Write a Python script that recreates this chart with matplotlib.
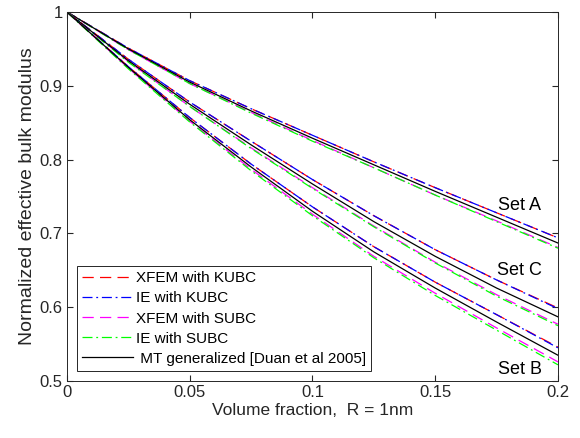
import numpy as np
import matplotlib.pyplot as plt

plt.rcParams['font.family'] = ['Liberation Sans', 'DejaVu Sans']

# volume fraction
vf = [0, 0.025, 0.05, 0.075, 0.1, 0.125, 0.15, 0.175, 0.2]

# Set A
a_xfem_kubc = [1, 0.951, 0.907, 0.869, 0.833, 0.797, 0.762, 0.728, 0.694]
a_ie_kubc = [1, 0.951, 0.907, 0.869, 0.833, 0.797, 0.762, 0.728, 0.694]
a_xfem_subc = [1, 0.949, 0.903, 0.864, 0.826, 0.789, 0.752, 0.717, 0.681]
a_ie_subc = [1, 0.949, 0.903, 0.863, 0.825, 0.789, 0.752, 0.716, 0.680]
a_mt = [1, 0.950, 0.905, 0.866, 0.829, 0.793, 0.757, 0.722, 0.687]

# Set C
c_xfem_kubc = [1, 0.936, 0.878, 0.825, 0.773, 0.724, 0.678, 0.637, 0.599]
c_ie_kubc = [1, 0.936, 0.878, 0.825, 0.773, 0.724, 0.678, 0.637, 0.598]
c_xfem_subc = [1, 0.933, 0.872, 0.816, 0.762, 0.710, 0.661, 0.617, 0.577]
c_ie_subc = [1, 0.932, 0.872, 0.815, 0.761, 0.709, 0.660, 0.615, 0.575]
c_mt = [1, 0.934, 0.875, 0.820, 0.767, 0.716, 0.669, 0.626, 0.587]

# Set B
b_xfem_kubc = [1, 0.926, 0.857, 0.794, 0.736, 0.682, 0.634, 0.590, 0.546]
b_ie_kubc = [1, 0.926, 0.857, 0.794, 0.736, 0.682, 0.634, 0.590, 0.545]
b_xfem_subc = [1, 0.924, 0.852, 0.787, 0.726, 0.669, 0.619, 0.572, 0.526]
b_ie_subc = [1, 0.923, 0.851, 0.785, 0.724, 0.667, 0.616, 0.569, 0.522]
b_mt = [1, 0.925, 0.854, 0.790, 0.730, 0.675, 0.626, 0.580, 0.535]

labels = ['XFEM with KUBC', 'IE with KUBC', 'XFEM with SUBC', 'IE with SUBC',
          ' MT generalized [Duan et al 2005]']
colors = ['#ff0000', '#0000ff', '#ff00ff', '#00ff00', 'black']
styles = [(0, (9, 5)), (0, (8, 3, 1.5, 3)), (0, (9, 5)), (0, (8, 3, 1.5, 3)), '-']

sets = [
    [a_xfem_kubc, a_ie_kubc, a_xfem_subc, a_ie_subc, a_mt],
    [c_xfem_kubc, c_ie_kubc, c_xfem_subc, c_ie_subc, c_mt],
    [b_xfem_kubc, b_ie_kubc, b_xfem_subc, b_ie_subc, b_mt],
]

fig = plt.figure(figsize=(5.8, 4.38), dpi=100)
ax = fig.add_axes([0.1155, 0.130, 0.8465, 0.8426])

for k, s in enumerate(sets):
    for i in range(5):
        ax.plot(vf, s[i], color=colors[i], linestyle=styles[i], linewidth=0.9,
                label=labels[i] if k == 0 else None)

ax.text(0.1845, 0.738, 'Set A', fontsize=13, ha='center', va='center')
ax.text(0.1845, 0.650, 'Set C', fontsize=13, ha='center', va='center')
ax.text(0.1845, 0.515, 'Set B', fontsize=13, ha='center', va='center')

ax.set_xlim(0, 0.2)
ax.set_ylim(0.5, 1)
ax.set_xticks([0, 0.05, 0.1, 0.15, 0.2])
ax.set_xticklabels(['0', '0.05', '0.1', '0.15', '0.2'])
ax.set_yticks([0.5, 0.6, 0.7, 0.8, 0.9, 1])
ax.set_yticklabels(['0.5', '0.6', '0.7', '0.8', '0.9', '1'])
ax.tick_params(direction='in', top=True, right=True, labelsize=12, length=4,
               colors='#262626', pad=3)
for sp in ax.spines.values():
    sp.set_color('#262626')
    sp.set_linewidth(0.7)

ax.set_xlabel('Volume fraction,  R = 1nm', fontsize=12.5, color='#262626', labelpad=2)
ax.set_ylabel('Normalized effective bulk modulus', fontsize=14, color='#262626', labelpad=3)

leg = ax.legend(loc='lower left', bbox_to_anchor=(0.02, 0.027), borderaxespad=0,
                fancybox=False, edgecolor='#262626', fontsize=11, handlelength=3.3,
                labelspacing=0.4, handletextpad=0.2, borderpad=0.35, framealpha=1)
leg.get_frame().set_linewidth(0.7)

fig.savefig('out.png', dpi=100)
